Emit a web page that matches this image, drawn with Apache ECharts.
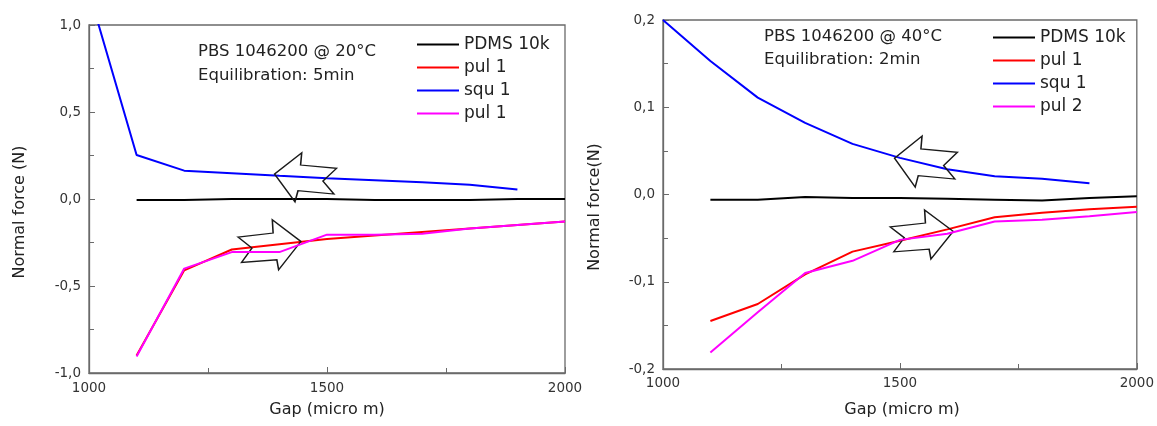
<!DOCTYPE html>
<html>
<head>
<meta charset="utf-8">
<script src="https://cdn.jsdelivr.net/npm/echarts@6/dist/echarts.min.js"></script>
<style>
html,body{margin:0;padding:0;background:#fff;}
.c{position:absolute;left:0;top:0;width:1157px;height:426px;}
</style>
</head>
<body>
<div id="c1" class="c"></div>
<div id="c2" class="c"></div>
<script>
// ---------- data ----------
const gaps = [1000, 1100, 1200, 1300, 1400, 1500, 1600, 1700, 1800, 1900, 2000];
const xTicks = ['1000', '1500', '2000'];

// left panel: 20 °C
const pdms20 = [null, -0.006, -0.006, 0, 0, 0, -0.006, -0.006, -0.006, 0, 0];
const pul1_20 = [null, -0.90, -0.41, -0.29, -0.26, -0.23, -0.21, -0.19, -0.17, -0.15, -0.13];
const squ1_20 = [1.19, 0.253, 0.163, 0.148, 0.133, 0.119, 0.108, 0.096, 0.082, 0.055, null];
const pul1b_20 = [null, -0.905, -0.40, -0.305, -0.305, -0.205, -0.205, -0.20, -0.17, -0.15, -0.13];

// right panel: 40 °C
const pdms40 = [null, -0.006, -0.006, -0.003, -0.004, -0.004, -0.005, -0.006, -0.007, -0.004, -0.002];
const pul1_40 = [null, -0.145, -0.1255, -0.0915, -0.0655, -0.053, -0.040, -0.026, -0.021, -0.017, -0.014];
const squ1_40 = [0.20, 0.153, 0.111, 0.082, 0.058, 0.042, 0.029, 0.021, 0.018, 0.013, null];
const pul2_40 = [null, -0.181, -0.135, -0.090, -0.076, -0.052, -0.045, -0.031, -0.029, -0.025, -0.020];

const legend20 = ['PDMS 10k', 'pul 1', 'squ 1', 'pul 1 '];
const legend40 = ['PDMS 10k', 'pul 1', 'squ 1', 'pul 2'];
const titles20 = ['PBS 1046200 @ 20°C', 'Equilibration: 5min'];
const titles40 = ['PBS 1046200 @ 40°C', 'Equilibration: 2min'];

// ---------- helpers ----------
const FONT = 'DejaVu Sans';
const colors = ['#000000', '#ff0000', '#0000ff', '#ff00ff'];
const ARROW_R = 'path://M0.4,17.3L35.5,13.3L34.7,0L63.2,21.7L41,50L39.2,40L4,42.7L14.4,28.3Z';
const ARROW_L = 'path://M0.3,21.3L27.3,0L26.2,12.3L62,15.6L48.4,28.3L59.4,41.3L23.6,38L20.6,49Z';

function pairs(ys) {
  const out = [];
  ys.forEach((y, i) => { if (y !== null) out.push([gaps[i], y]); });
  return out;
}
function fmtY(v) {
  if (Math.abs(v) < 1e-9) return '0,0';
  return v.toFixed(1).replace('.', ',');
}

function build(cfg) {
  const frame = '#6a6a6a';
  const series = cfg.data.map((d, i) => ({
    type: 'line',
    name: cfg.names[i],
    data: pairs(d),
    symbol: 'none',
    lineStyle: { color: colors[i], width: 2 },
    itemStyle: { color: colors[i] },
    z: 2 + i
  }));
  series[0].markPoint = {
    silent: true,
    label: { show: false },
    itemStyle: { color: 'rgba(0,0,0,0)', borderColor: '#1a1a1a', borderWidth: 1.4 },
    data: cfg.arrows.map(a => ({ coord: a.coord, symbol: a.dir === 'L' ? ARROW_L : ARROW_R, symbolSize: a.size }))
  };
  return {
    animation: false,
    grid: { left: cfg.grid[0], top: cfg.grid[1], width: cfg.grid[2], height: cfg.grid[3], show: true, borderColor: frame, borderWidth: 1.3, backgroundColor: 'transparent' },
    xAxis: {
      type: 'value', min: 1000, max: 2000, interval: 500,
      axisLine: { show: true, onZero: false, lineStyle: { color: frame, width: 1.3 } },
      axisTick: { show: true, inside: true, length: 6, lineStyle: { color: frame } },
      minorTick: { show: true, splitNumber: 2, length: 5, lineStyle: { color: frame } },
      splitLine: { show: false },
      axisLabel: { margin: cfg.xMargin, color: '#333', fontFamily: FONT, fontSize: 13.5, formatter: v => xTicks[(v - 1000) / 500] },
    },
    yAxis: {
      type: 'value', min: cfg.yMin, max: cfg.yMax, interval: cfg.yInt,
      axisLine: { show: true, onZero: false, lineStyle: { color: frame, width: 1.3 } },
      axisTick: { show: true, inside: true, length: 6, lineStyle: { color: frame } },
      minorTick: { show: true, splitNumber: 2, length: 5, lineStyle: { color: frame } },
      splitLine: { show: false },
      axisLabel: { margin: 8, color: '#333', fontFamily: FONT, fontSize: 13.5, formatter: fmtY },
    },
    legend: {
      orient: 'vertical', left: cfg.legendPos[0], top: cfg.legendPos[1], padding: 0,
      icon: 'rect', itemWidth: 42, itemHeight: 2, itemGap: 0,
      data: cfg.names,
      formatter: n => n.trim(),
      textStyle: { fontFamily: FONT, fontSize: 17, color: '#222', lineHeight: 23 }
    },
    graphic: [
      { type: 'text', left: cfg.txt[0], top: cfg.txt[1] - 10, style: { text: cfg.titles[0], font: '16.5px "DejaVu Sans"', fill: '#222' } },
      { type: 'text', left: cfg.txt[0], top: cfg.txt[2] - 10, style: { text: cfg.titles[1], font: '16.5px "DejaVu Sans"', fill: '#222' } },
      { type: 'text', x: cfg.xTitle[0], y: cfg.xTitle[1], style: { text: 'Gap (micro m)', font: '16px "DejaVu Sans"', fill: '#222', align: 'center', verticalAlign: 'middle' } },
      { type: 'text', x: cfg.yTitle[0], y: cfg.yTitle[1], rotation: Math.PI / 2, style: { text: cfg.yName, font: '16px "DejaVu Sans"', fill: '#222', align: 'center', verticalAlign: 'middle' } }
    ],
    series
  };
}

const c1 = echarts.init(document.getElementById('c1'));
c1.setOption(build({
  grid: [89, 25, 476, 348], xMargin: 8,
  yMin: -1, yMax: 1, yInt: 0.5,
  names: legend20, data: [pdms20, pul1_20, squ1_20, pul1b_20],
  legendPos: [417, 33], titles: titles20, txt: [198, 53, 77],
  xTitle: [327, 410], yTitle: [20, 212], yName: 'Normal force (N)',
  arrows: [{ dir: 'L', coord: [1455, 0.125], size: [62, 49] }, { dir: 'R', coord: [1379, -0.263], size: [63, 50] }]
}));

const c2 = echarts.init(document.getElementById('c2'));
c2.setOption(build({
  grid: [663, 20, 478, 349], xMargin: 7,
  yMin: -0.2, yMax: 0.2, yInt: 0.1,
  names: legend40, data: [pdms40, pul1_40, squ1_40, pul2_40],
  legendPos: [993, 26], titles: titles40, txt: [764, 38, 61],
  xTitle: [902, 410], yTitle: [595, 207], yName: 'Normal force(N)',
  arrows: [{ dir: 'L', coord: [1555, 0.0378], size: [63, 51] }, { dir: 'R', coord: [1546, -0.0458], size: [63, 49] }]
}));
</script>
</body>
</html>
